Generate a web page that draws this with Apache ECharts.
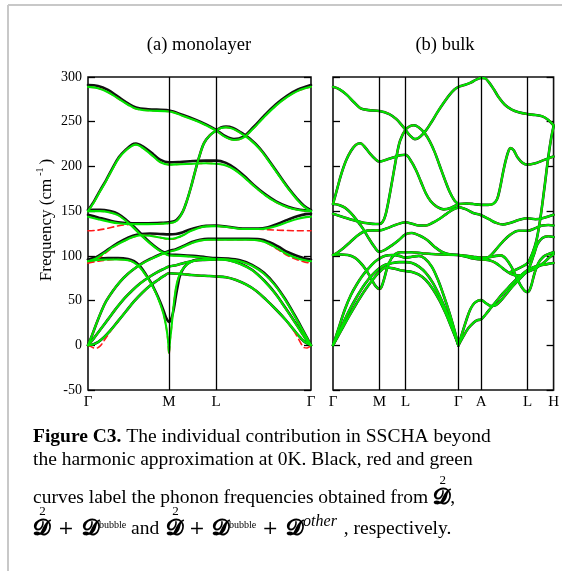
<!DOCTYPE html>
<html>
<head>
<meta charset="utf-8">
<script src="https://cdn.jsdelivr.net/npm/echarts@6/dist/echarts.min.js"></script>
<style>
  html, body { margin: 0; padding: 0; background: #fff; }
  #chart { width: 562px; height: 571px; }
</style>
</head>
<body>
<div id="chart"></div>
<script>
// ---------- high-symmetry paths ----------
const monoKPoints = [0, 81, 128, 223];
const monoKLabels = ['Γ', 'M', 'L', 'Γ'];
const bulkKPoints = [0, 47, 73.4, 127, 150, 197, 223.4];
const bulkKLabels = ['Γ', 'M', 'L', 'Γ', 'A', 'L', 'H'];
const freqRange = [-50, 300];
const freqStep = 50;

// ---------- (a) monolayer bands, [k, ω (cm^-1)] ----------
// green: D2 + Dbubble + Dother
const monoTop = [[0,289],[10,287.5],[20,283],[30,276],[40,269],[48,264.5],[60,262.5],[81,261.5],[95,256.5],[108,251],[118,246],[128,240],[137,233],[146,229.5],[155,232],[165,242],[176,255],[188,268],[199,277.5],[210,284.5],[223,289]];
const monoB2 = [[0,143.7],[10,141],[20,138.5],[30,136.5],[45,135.5],[60,135.5],[75,136],[81,136.5],[87,138],[91,142],[95,150],[99,162],[103,177],[107,194],[111,210],[116,226],[122,235],[128,240],[133,243],[138,243.7],[145,242],[153,237],[162,230],[172,219],[182,204],[192,188],[201,174],[209,163],[216,155],[223,150]];
const monoB3 = [[0,150],[6,160],[12,172],[18,183.5],[24,196],[31,209.5],[38,218],[44,223],[48,224.4],[53,222],[58,218],[65,211.5],[72,205],[81,202],[92,202.5],[105,203],[118,203.5],[128,203],[138,201],[147,196],[156,188],[166,178],[177,168],[188,160],[200,154],[212,151],[223,150]];
const monoB4 = [[0,150],[12,150],[22,148.5],[30,145.5],[38,139],[46,131],[54,122],[62,114],[70,107],[76,103],[81,100.5],[92,100],[105,99],[118,97.5],[128,96.5],[140,96],[152,94],[164,89],[176,80],[187,67],[197,51],[206,34],[213,20],[219,8],[223,0]];
const monoB5 = [[0,94],[8,97],[16,103],[25,110],[35,116],[45,121],[53,123],[62,122.5],[72,120.5],[81,119],[88,120],[95,123],[102,127.5],[110,131],[118,133],[128,133.3],[140,132],[155,130],[170,130],[180,131],[190,134],[200,138],[210,141.5],[218,143.3],[223,143.7]];
const monoB6 = [[0,94],[10,95.5],[20,96],[30,96],[40,95],[46,92.5],[52,87],[58,78],[63,69],[68,58],[72,47],[75.5,35],[78,22],[80,6],[81,-8.5],[82,5],[83.5,20],[85,38],[87,57],[89,70],[92,80],[96,87],[101,92],[108,95],[118,96],[128,96],[140,95],[152,91],[164,84],[176,72],[187,58],[197,42],[206,27],[213,15],[219,5],[223,0]];
const monoB7 = [[0,0],[4,11],[8,23],[13,37],[18,49],[25,61],[32,71],[40,80],[48,87],[56,92.5],[64,97],[72,101],[81,104.5],[88,106.5],[96,110.5],[104,114.5],[112,117],[120,118],[128,118],[145,118],[160,118],[172,117],[181,113.5],[190,108],[200,101.5],[210,97],[217,95],[223,94]];
const monoB8 = [[0,0],[6,8],[12,17],[20,29],[28,41],[36,52],[44,61],[52,69],[60,75.5],[68,81],[75,85],[81,88],[88,89.5],[96,92],[106,94.5],[116,95.5],[128,96]];
const monoB9 = [[0,0],[5,1],[10,3.5],[16,9],[22,16],[30,27],[38,38],[46,49],[54,58.5],[62,66.5],[70,73],[76,77.5],[81,80.5],[90,80],[100,79],[110,78],[120,77.5],[128,77],[138,76],[148,73],[158,68],[168,61],[178,51],[188,40],[198,28],[206,17],[212,9],[217,3.5],[223,0]];

// black: D2 where it departs from green
const monoTopK = [[0,291],[10,290],[20,285.5],[30,278],[40,270.5],[48,266],[60,264],[81,262.5],[95,257.5],[108,252],[118,247],[128,241],[137,234],[146,230.5],[155,233],[165,243.5],[176,256.5],[188,269.5],[199,279],[210,286],[223,291]];
const monoB2K = [[0,146],[10,143],[20,140],[30,137.5],[45,136.5],[60,136.5],[75,137],[81,137.5],[87,139],[91,143],[95,150],[99,162],[103,177],[107,194],[111,210],[116,226],[122,235],[128,240],[133,243.5],[138,244.5],[145,243],[153,238],[162,231],[172,220],[182,205],[192,189],[201,175],[209,164],[216,156],[223,151]];
const monoB3K = [[0,151],[6,161],[12,173],[18,184.5],[24,197],[31,210.5],[38,219],[44,224.5],[48,225.5],[53,223.5],[58,220],[65,214],[72,207.5],[81,204.5],[92,205],[105,206],[118,206.5],[128,206.5],[138,204],[147,198],[156,189.5],[166,179],[177,169],[188,161],[200,155],[212,151.5],[223,150.5]];
const monoB4K = [[0,151.5],[12,151.5],[22,150],[30,147],[38,140.5],[46,132.5],[54,123.5],[62,115],[70,108],[76,104],[81,101.5],[92,101],[105,100],[118,98.5],[128,97.5],[140,97],[152,95],[164,90],[176,81],[187,68],[197,52],[206,35],[213,21],[219,8.5],[223,0]];
const monoB5K = [[0,96],[8,98.5],[16,104],[25,111],[35,117.5],[45,122.5],[53,124.5],[62,125],[72,124.5],[81,124],[88,124.5],[95,126.5],[102,129.5],[110,132],[118,133.5],[128,134],[140,132.5],[155,130.5],[170,130.5],[180,132],[190,136],[200,140.5],[210,144.5],[218,146.7],[223,147]];
const monoB6K = [[0,96],[10,97],[20,97.5],[30,97.5],[40,96.5],[46,94],[52,88.5],[58,79],[63,70],[68,59],[72,49],[75.5,39],[78,31],[80,27],[81,26],[82,27],[84,32],[86,42],[88,56],[90,68],[92,78],[96,87],[101,92.5],[108,95.5],[118,96.5],[128,96.5],[140,95.5],[152,91.5],[164,84.5],[176,72.5],[187,58.5],[197,42.5],[206,27.5],[213,15.5],[219,5],[223,0]];
const monoB7K = [[0,0],[4,11],[8,23],[13,37],[18,49],[25,61],[32,71],[40,80],[48,87],[56,93],[64,97.5],[72,101.5],[81,105.5],[88,107.5],[96,111.5],[104,115.5],[112,118],[120,119],[128,119],[145,119],[160,119],[172,118.5],[181,115.5],[190,110.5],[200,104],[210,99.5],[217,97],[223,96]];

// red: D2 + Dbubble where it departs from green
const monoB2R = [[0,128],[8,128.5],[16,130],[24,132],[32,134],[40,135],[50,135.5],[60,135.5],[75,136],[81,136.5],[87,138],[91,142],[95,150],[99,162],[103,177],[107,194],[111,210],[116,226],[122,235],[128,240],[133,243],[138,243.7],[145,242],[153,237],[162,230],[172,219],[182,204],[192,188],[201,174],[209,163],[216,155],[223,150]];
const monoB5R = [[0,92],[8,95.5],[16,102],[25,109.5],[35,116],[45,121],[53,123],[62,122.5],[72,120.5],[81,118.5],[88,119.5],[95,123],[102,127.5],[110,131],[118,133],[128,133.3],[140,132],[155,130],[170,129.8],[180,129.3],[190,128.7],[200,128.3],[212,128],[223,128]];
const monoB6R = [[0,92],[10,94],[20,95.5],[30,96],[40,95],[46,92.5],[52,87],[58,78],[63,69],[68,58],[72,47],[75.5,35],[78,22],[80,5],[81,-10.5],[82,4],[83.5,20],[85,38],[87,57],[89,70],[92,80],[96,87],[101,92],[108,95],[118,96],[128,96],[140,95],[152,91],[164,84],[176,72],[187,58],[197,42],[206,27],[213,15],[219,5],[223,0]];
const monoB7R = [[0,0],[4,11],[8,23],[13,37],[18,49],[25,61],[32,71],[40,80],[48,87],[56,92.5],[64,97],[72,101],[81,104.5],[88,106.5],[96,110.5],[104,114.5],[112,117],[120,118],[128,118],[145,118],[160,118],[172,117],[181,113],[190,107],[200,100],[210,95.5],[217,93],[223,92]];
const monoB9R = [[0,0],[3,-1.5],[6,-3],[9,-3],[12,-1],[16,5],[22,15],[30,27],[38,38],[46,49],[54,58.5],[62,66.5],[70,73],[76,77.5],[81,80.5],[90,80],[100,79],[110,78],[120,77.5],[128,77],[138,76],[148,73],[158,68],[168,61],[178,51],[188,40],[198,28],[206,16],[210,8],[213,2],[216,-2.5],[219,-3],[221,-2],[223,0]];

// ---------- (b) bulk bands, [k, ω (cm^-1)] ----------
const bulkTop = [[0,289],[7,286],[14,280],[21,272],[28,265],[36,263],[47,262],[57,258.5],[64,253],[69,247],[73.4,241],[78,234.5],[83,230.5],[88,233],[94,240],[100,250],[106,261],[112,271],[118,280],[123,286],[127,289],[133,291],[139,293.5],[145,297],[150,299],[154,298.5],[158,294],[163,286],[168,277],[174,269],[181,263.5],[188,260.5],[197,258.5],[205,257.5],[212,256],[218,252],[223.4,246]];
const bulkB2 = [[0,147],[10,143.5],[20,140],[31,137],[40,135.8],[47,135.6],[50,137.5],[53,145],[56,160],[59,178],[62,197],[65,215],[68,229],[73.4,241],[78,245],[82,246],[87,243.5],[93,237],[98,228],[103,216],[108,201],[113,186],[118,172],[123,162],[127,158]];
const bulkB3 = [[0,158],[4,174],[8,190],[13,206],[18,217],[23,224],[27.7,226],[32,222],[37.7,214],[43,208],[47,205.5],[54,207.5],[61,210],[68,212.5],[73.4,213],[79,206],[84,196],[89,183],[94,170],[99,161],[105,155],[112,152],[119,153.5],[127,158]];
const bulkB4 = [[0,101],[5,104],[11,109],[17,115],[24,122],[31,127],[39,128.5],[47,128.5],[55,131],[63,134.5],[73.4,137.5],[80,136],[87,134],[94,134],[101,137],[108,141.5],[115,147],[121,151.5],[127,154]];
const bulkB5 = [[0,158],[6,157],[12,154],[18,148],[24,140],[30,131],[36,120],[42,110],[47,104.5],[53,107],[60,112],[67,118],[73.4,124],[80,125.5],[87,123],[95,118],[103,110],[111,104],[119,101.5],[127,101]];
const bulkB6 = [[0,101],[8,101.5],[15,101],[22,98],[28,92],[33,85],[38,76],[42,68],[45,64],[47,63],[49,65],[52,75],[55,87],[59,97],[63,102],[68,104],[73.4,104],[80,104],[90,103],[100,102],[110,101.5],[127,101]];
const bulkA1 = [[0,0],[6,20],[12,40],[18,56],[24,68],[30,78],[36,86],[42,93],[47,97],[53,100],[60,101],[67,100],[73.4,98],[80,99],[87,100],[93,97],[100,88],[106,74],[112,56],[118,36],[123,17],[127,0]];
const bulkA2 = [[0,0],[8,19],[16,38],[24,54],[32,68],[40,79],[47,86],[53,90],[60,92],[67,93],[73.4,93],[80,92],[87,88],[94,81],[101,70],[108,55],[114,40],[120,23],[124,10],[127,0]];
const bulkA3 = [[0,0],[8,16],[16,32],[24,47],[32,61],[40,73],[47,82],[54,87],[61,86],[68,84],[73.4,83],[80,82],[87,79],[94,73],[101,63],[108,50],[114,36],[120,20],[124,9],[127,0]];
const bulkB7 = [[127,158],[135,158.5],[142,158],[150,157],[157,157],[162,158],[166,163],[169,175],[172,192],[175,207],[178,218],[180,220.5],[183,218],[187,210],[192,204],[197,202],[205,203.5],[212,206.5],[218,209],[223.4,211]];
const bulkB8 = [[127,155],[135,152],[142,148],[150,145.5],[158,141],[165,137],[172,135],[180,137],[188,140],[197,142],[205,141],[212,142],[218,144],[223.4,146]];
const bulkB9 = [[127,101],[135,100],[142,99],[150,98],[158,98.5],[165,100],[170,100.5],[175,97],[180,89],[185,78],[190,67],[194,61],[197,59.5],[200,64],[204,80],[208,92],[213,99],[218,102],[223.4,104]];
const bulkB10 = [[127,101],[135,99],[142,97],[150,96],[158,99],[165,107],[172,116],[180,124],[188,128],[197,128],[205,131],[212,134],[218,134.5],[223.4,134]];
const bulkB11 = [[150,96],[158,95],[165,92],[172,86],[180,80],[188,78],[197,84],[203,100],[207,113],[212,120],[218,122],[223.4,121]];
const bulkA4 = [[127,0],[131,14],[135,28],[139,40],[143,47],[147,50],[150,50.5],[155,47],[160,44],[165,45],[170,50],[176,58],[182,66],[188,73],[194,80],[197,82],[205,86],[213,92],[218,97],[223.4,102]];
const bulkA5 = [[127,0],[132,10],[137,19],[142,25],[146,28],[150,29],[155,35],[160,42],[166,50],[172,58],[178,65],[184,72],[190,78],[197,84],[205,88],[213,90],[218,91],[223.4,92]];
const bulkB12 = [[180,82],[188,86],[197,92],[202,103],[206,117],[210,142],[214,175],[218,210],[221,232],[223.4,245]];

// ---------- series groups ----------
const monoGreen = [monoTop, monoB2, monoB3, monoB4, monoB5, monoB6, monoB7, monoB8, monoB9];
const monoBlack = [monoTopK, monoB2K, monoB3K, monoB4K, monoB5K, monoB6K, monoB7K, monoB8, monoB9];
const monoRed = [monoTop, monoB2R, monoB3, monoB4, monoB5R, monoB6R, monoB7R, monoB8, monoB9R];
const bulkBands = [bulkTop, bulkB2, bulkB3, bulkB4, bulkB5, bulkB6, bulkA1, bulkA2, bulkA3,
                   bulkB7, bulkB8, bulkB9, bulkB10, bulkB11, bulkA4, bulkA5, bulkB12];

const SERIF = "'Liberation Serif', 'DejaVu Serif', serif";
const GREEN = '#00e400';
const RED = '#ff1a1a';
const BLACK = '#111111';

function bandSeries(bands, gi, kind) {
  const style = {
    black: { color: BLACK, width: 2.6, type: 'solid', z: 2 },
    red:   { color: RED, width: 1.6, type: [6, 4], z: 3 },
    green: { color: GREEN, width: 2.1, type: 'solid', z: 4 }
  }[kind];
  return bands.map(b => ({
    type: 'line',
    xAxisIndex: gi, yAxisIndex: gi * 2,
    data: b,
    smooth: 0.35,
    showSymbol: false,
    symbol: 'none',
    silent: true,
    clip: true,
    z: style.z,
    lineStyle: { color: style.color, width: style.width, type: style.type, cap: 'round', join: 'round' }
  }));
}

function verticalLines(kPoints, gi) {
  return {
    type: 'line', xAxisIndex: gi, yAxisIndex: gi * 2, data: [], silent: true, z: 1,
    markLine: {
      silent: true, symbol: 'none', animation: false,
      label: { show: false },
      lineStyle: { color: '#000', width: 1.3, type: 'solid' },
      data: kPoints.slice(1, -1).map(k => ({ xAxis: k }))
    }
  };
}

const grids = [
  { left: 88, top: 77, width: 223, height: 313 },
  { left: 333, top: 77, width: 224, height: 313 }
].map(g => Object.assign(g, { show: true, borderColor: '#111', borderWidth: 1.6, backgroundColor: 'transparent' }));

function xAxisFor(gi, kPoints, kLabels) {
  return {
    type: 'value', gridIndex: gi, min: kPoints[0], max: kPoints[kPoints.length - 1],
    axisLine: { show: false }, splitLine: { show: false }, axisTick: { show: false },
    axisLabel: {
      customValues: kPoints, margin: 5,
      color: '#000', fontFamily: SERIF, fontSize: 15,
      formatter: v => kLabels[kPoints.indexOf(v)] ?? ''
    }
  };
}

function yAxisFor(gi, position, labels) {
  return {
    type: 'value', gridIndex: gi, position,
    min: freqRange[0], max: freqRange[1], interval: freqStep,
    axisLine: { show: false }, splitLine: { show: false },
    axisTick: { show: true, inside: true, length: 7, lineStyle: { color: '#000', width: 1.3 } },
    axisLabel: { show: labels, color: '#000', fontFamily: SERIF, fontSize: 14, margin: 6 }
  };
}

// ---------- caption (text laid out from measured pieces) ----------
const capSize = 19.5;
const measureCtx = document.createElement('canvas').getContext('2d');
function textWidth(str, font) { measureCtx.font = font; return measureCtx.measureText(str).width; }

const SCRIPT_D = '𝓓';
const fontNormal = `${capSize}px ${SERIF}`;
const fontBold = `bold ${capSize}px ${SERIF}`;
const fontD = `bold 22px 'DejaVu Serif', serif`;
const fontPlus = `19px 'DejaVu Serif', serif`;
const fontSup = `10px ${SERIF}`;
const fontIt = `italic 16px ${SERIF}`;

function layoutLine(pieces, x0, y) {
  const els = [];
  let x = x0;
  pieces.forEach(p => {
    const font = p.font || fontNormal;
    x += p.pre || 0;
    const w = textWidth(p.t, font);
    els.push({
      type: 'text', silent: true,
      style: { x, y: y + (p.dy || 0), text: p.t, font, fill: '#000', verticalAlign: 'middle', textVerticalAlign: 'middle' }
    });
    if (p.over) {
      els.push({
        type: 'text', silent: true,
        style: { x: x + w / 2 + 1, y: y - 17, text: p.over, font: `13px ${SERIF}`, fill: '#000',
                 align: 'center', textAlign: 'center', verticalAlign: 'middle', textVerticalAlign: 'middle' }
      });
    }
    x += w + (p.gap || 0);
  });
  return els;
}

const captionEls = [].concat(
  layoutLine([{ t: 'Figure C3.', font: fontBold },
              { t: ' The individual contribution in SSCHA beyond' }], 33, 437),
  layoutLine([{ t: 'the harmonic approximation at 0K. Black, red and green' }], 33, 460),
  layoutLine([{ t: 'curves label the phonon frequencies obtained from ' },
              { t: SCRIPT_D, font: fontD, over: '2' },
              { t: ',' }], 33, 498),
  layoutLine([{ t: SCRIPT_D, font: fontD, over: '2' },
              { t: '+', font: fontPlus, pre: 8, gap: 8 },
              { t: SCRIPT_D, font: fontD },
              { t: 'bubble', font: fontSup, dy: -4 },
              { t: ' and ', gap: 2 },
              { t: SCRIPT_D, font: fontD, over: '2' },
              { t: '+', font: fontPlus, pre: 6, gap: 7 },
              { t: SCRIPT_D, font: fontD },
              { t: 'bubble', font: fontSup, dy: -4 },
              { t: '+', font: fontPlus, pre: 6, gap: 8 },
              { t: SCRIPT_D, font: fontD },
              { t: 'other', font: fontIt, dy: -7 },
              { t: ' , respectively.', pre: 2 }], 33, 529)
);

const frameEls = [
  { type: 'line', silent: true, shape: { x1: 8, y1: 5, x2: 562, y2: 5 }, style: { stroke: '#c8c8c8', lineWidth: 2 } },
  { type: 'line', silent: true, shape: { x1: 8, y1: 5, x2: 8, y2: 571 }, style: { stroke: '#c8c8c8', lineWidth: 2 } }
];

// axis title for frequency, rotated along the left frame
const freqTitle = {
  type: 'text', silent: true, x: 47, y: 220, rotation: Math.PI / 2,
  style: {
    text: 'Frequency (cm{sup|-1})', fill: '#000', font: `17px ${SERIF}`,
    align: 'center', verticalAlign: 'middle',
    rich: { sup: { fontFamily: SERIF, fontSize: 10, fill: '#000', padding: [0, 3, 13, 3] } }
  }
};

const chart = echarts.init(document.getElementById('chart'), null, { renderer: 'canvas' });
chart.setOption({
  animation: false,
  backgroundColor: '#fff',
  title: [
    { text: '(a) monolayer', left: 194, top: 31, textAlign: 'center',
      textStyle: { fontFamily: SERIF, fontSize: 18.5, fontWeight: 'normal', color: '#000' } },
    { text: '(b) bulk', left: 440, top: 31, textAlign: 'center',
      textStyle: { fontFamily: SERIF, fontSize: 18.5, fontWeight: 'normal', color: '#000' } }
  ],
  grid: grids,
  xAxis: [xAxisFor(0, monoKPoints, monoKLabels), xAxisFor(1, bulkKPoints, bulkKLabels)],
  yAxis: [yAxisFor(0, 'left', true), yAxisFor(0, 'right', false),
          yAxisFor(1, 'left', false), yAxisFor(1, 'right', false)],
  series: [].concat(
    verticalLines(monoKPoints, 0),
    verticalLines(bulkKPoints, 1),
    bandSeries(monoBlack, 0, 'black'),
    bandSeries(monoRed, 0, 'red'),
    bandSeries(monoGreen, 0, 'green'),
    bandSeries(bulkBands, 1, 'black'),
    bandSeries(bulkBands, 1, 'red'),
    bandSeries(bulkBands, 1, 'green')
  ),
  graphic: frameEls.concat(captionEls, [freqTitle])
});
</script>
</body>
</html>
